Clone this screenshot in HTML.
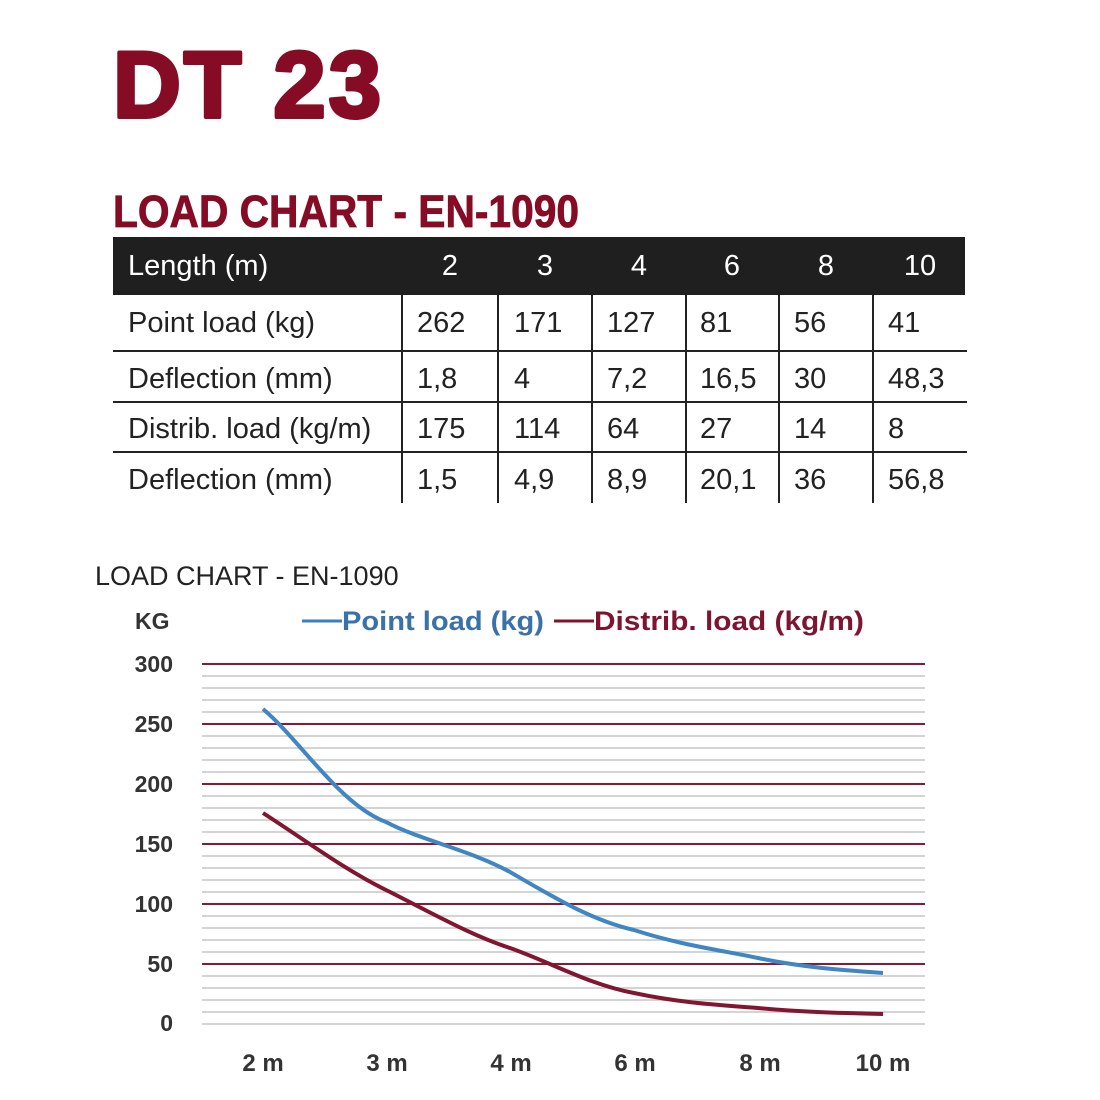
<!DOCTYPE html>
<html><head><meta charset="utf-8"><style>
html,body{margin:0;padding:0;background:#fff;}
svg{display:block;}
</style></head><body>
<svg width="1100" height="1100" viewBox="0 0 1100 1100" xmlns="http://www.w3.org/2000/svg" font-family="Liberation Sans, sans-serif">
<rect width="1100" height="1100" fill="#fff"/>
<text x="113" y="117" font-size="94" font-weight="bold" fill="#860c25" stroke="#860c25" stroke-width="4" stroke-linejoin="round" letter-spacing="3">DT 23</text>
<text x="113" y="227" font-size="45" font-weight="bold" fill="#860c25" stroke="#860c25" stroke-width="0.8" textLength="466" lengthAdjust="spacingAndGlyphs">LOAD CHART - EN-1090</text>
<!-- table -->
<rect x="113" y="237" width="852" height="58" fill="#1f1f1f"/>
<g font-size="29" fill="#fff">
<text x="128" y="275">Length (m)</text>
<text x="450" y="275" text-anchor="middle">2</text>
<text x="545" y="275" text-anchor="middle">3</text>
<text x="639" y="275" text-anchor="middle">4</text>
<text x="732" y="275" text-anchor="middle">6</text>
<text x="826" y="275" text-anchor="middle">8</text>
<text x="920" y="275" text-anchor="middle">10</text>
</g>
<g stroke="#222" stroke-width="2">
<line x1="113" y1="351" x2="967" y2="351"/>
<line x1="113" y1="402" x2="967" y2="402"/>
<line x1="113" y1="452" x2="967" y2="452"/>
<line x1="402" y1="295" x2="402" y2="503"/>
<line x1="498" y1="295" x2="498" y2="503"/>
<line x1="592" y1="295" x2="592" y2="503"/>
<line x1="686" y1="295" x2="686" y2="503"/>
<line x1="779" y1="295" x2="779" y2="503"/>
<line x1="873" y1="295" x2="873" y2="503"/>
</g>
<g font-size="29" fill="#222">
<text x="128" y="332">Point load (kg)</text>
<text x="417" y="332">262</text><text x="514" y="332">171</text><text x="607" y="332">127</text><text x="700" y="332">81</text><text x="794" y="332">56</text><text x="888" y="332">41</text>
<text x="128" y="388">Deflection (mm)</text>
<text x="417" y="388">1,8</text><text x="514" y="388">4</text><text x="607" y="388">7,2</text><text x="700" y="388">16,5</text><text x="794" y="388">30</text><text x="888" y="388">48,3</text>
<text x="128" y="438">Distrib. load (kg/m)</text>
<text x="417" y="438">175</text><text x="514" y="438">114</text><text x="607" y="438">64</text><text x="700" y="438">27</text><text x="794" y="438">14</text><text x="888" y="438">8</text>
<text x="128" y="489">Deflection (mm)</text>
<text x="417" y="489">1,5</text><text x="514" y="489">4,9</text><text x="607" y="489">8,9</text><text x="700" y="489">20,1</text><text x="794" y="489">36</text><text x="888" y="489">56,8</text>
</g>
<!-- chart -->
<text x="95" y="585" font-size="27" fill="#222">LOAD CHART - EN-1090</text>
<text x="135" y="629" font-size="23" font-weight="bold" fill="#333">KG</text>
<line x1="302" y1="621" x2="342" y2="621" stroke="#3a7fbf" stroke-width="3"/>
<text x="342" y="630" font-size="27" font-weight="bold" fill="#3a72a8" textLength="202" lengthAdjust="spacingAndGlyphs">Point load (kg)</text>
<line x1="554" y1="621" x2="594" y2="621" stroke="#7e1530" stroke-width="3"/>
<text x="594" y="630" font-size="27" font-weight="bold" fill="#7e1530" textLength="270" lengthAdjust="spacingAndGlyphs">Distrib. load (kg/m)</text>
<g stroke="#d4d4d4" stroke-width="2">
<line x1="202" y1="676" x2="925" y2="676"/><line x1="202" y1="688" x2="925" y2="688"/><line x1="202" y1="700" x2="925" y2="700"/><line x1="202" y1="712" x2="925" y2="712"/>
<line x1="202" y1="736" x2="925" y2="736"/><line x1="202" y1="748" x2="925" y2="748"/><line x1="202" y1="760" x2="925" y2="760"/><line x1="202" y1="772" x2="925" y2="772"/>
<line x1="202" y1="796" x2="925" y2="796"/><line x1="202" y1="808" x2="925" y2="808"/><line x1="202" y1="820" x2="925" y2="820"/><line x1="202" y1="832" x2="925" y2="832"/>
<line x1="202" y1="856" x2="925" y2="856"/><line x1="202" y1="868" x2="925" y2="868"/><line x1="202" y1="880" x2="925" y2="880"/><line x1="202" y1="892" x2="925" y2="892"/>
<line x1="202" y1="916" x2="925" y2="916"/><line x1="202" y1="928" x2="925" y2="928"/><line x1="202" y1="940" x2="925" y2="940"/><line x1="202" y1="952" x2="925" y2="952"/>
<line x1="202" y1="976" x2="925" y2="976"/><line x1="202" y1="988" x2="925" y2="988"/><line x1="202" y1="1000" x2="925" y2="1000"/><line x1="202" y1="1012" x2="925" y2="1012"/>
<line x1="202" y1="1024" x2="925" y2="1024"/>
</g>
<g stroke="#8a1a33" stroke-width="2">
<line x1="202" y1="664" x2="925" y2="664"/><line x1="202" y1="724" x2="925" y2="724"/><line x1="202" y1="784" x2="925" y2="784"/>
<line x1="202" y1="844" x2="925" y2="844"/><line x1="202" y1="904" x2="925" y2="904"/><line x1="202" y1="964" x2="925" y2="964"/>
</g>
<g font-size="23" font-weight="bold" fill="#333" text-anchor="end">
<text x="173" y="672">300</text><text x="173" y="732">250</text><text x="173" y="792">200</text>
<text x="173" y="852">150</text><text x="173" y="912">100</text><text x="173" y="972">50</text><text x="173" y="1031">0</text>
</g>
<g font-size="24" font-weight="bold" fill="#333" text-anchor="middle">
<text x="263" y="1071">2 m</text><text x="387" y="1071">3 m</text><text x="511" y="1071">4 m</text>
<text x="635" y="1071">6 m</text><text x="760" y="1071">8 m</text><text x="883" y="1071">10 m</text>
</g>
<path d="M263,709 C300,740 340,805 386,822 C420,840 470,850 510,872 C550,895 590,920 634,930 C680,945 720,950 758,958 C800,967 840,970 883,973" fill="none" stroke="#3f86c2" stroke-width="4"/>
<path d="M263,813 C305,840 345,870 386,890 C430,912 470,935 510,948 C550,962 590,985 634,993 C680,1003 720,1005 758,1008 C800,1012 840,1013 883,1014" fill="none" stroke="#821631" stroke-width="4"/>
</svg>
</body></html>
